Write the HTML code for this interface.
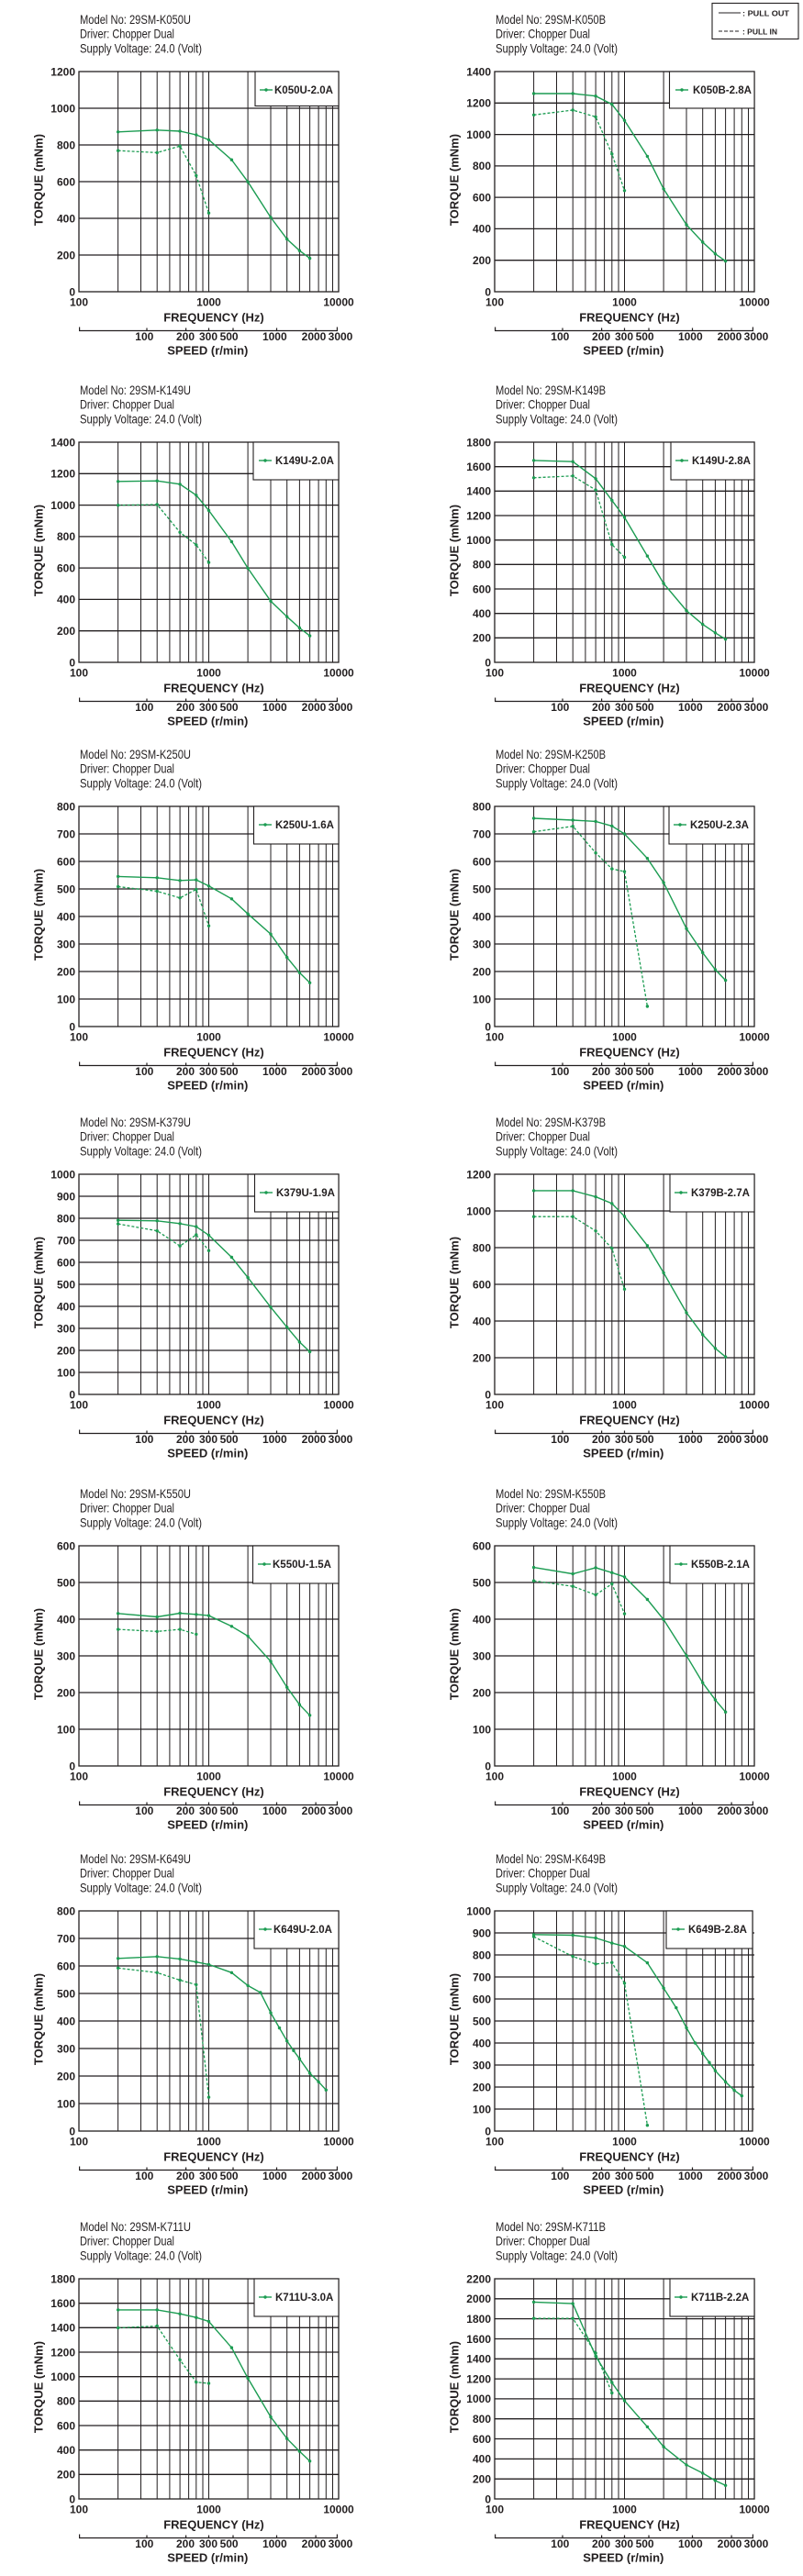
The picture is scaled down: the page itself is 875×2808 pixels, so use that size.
<!DOCTYPE html>
<html><head><meta charset="utf-8">
<style>
html,body{margin:0;padding:0;background:#fff;}
svg{display:block;}
.hd{font-family:"Liberation Sans",sans-serif;font-size:14px;fill:#231f20;}
.tk{font-family:"Liberation Sans",sans-serif;font-weight:bold;font-size:12px;fill:#231f20;}
.ax{font-family:"Liberation Sans",sans-serif;font-weight:bold;font-size:13px;fill:#231f20;}
.lt{font-family:"Liberation Sans",sans-serif;font-weight:bold;font-size:11.5px;fill:#231f20;}
.pl{font-family:"Liberation Sans",sans-serif;font-weight:bold;font-size:8px;fill:#231f20;}
.hg{stroke:#231f20;stroke-width:1.3;fill:none;}
.fr{stroke:#231f20;stroke-width:1.3;fill:none;}
.lg{stroke:#231f20;stroke-width:1.1;fill:#fff;}
.po{fill:none;stroke:#1c9c52;stroke-width:1.4;marker-start:url(#d);marker-mid:url(#d);marker-end:url(#d);}
.pi{fill:none;stroke:#1c9c52;stroke-width:1.3;stroke-dasharray:3 2;marker-start:url(#d);marker-mid:url(#d);marker-end:url(#d);}
.sa{stroke:#231f20;stroke-width:1.2;fill:none;}
</style></head>
<body>
<svg width="875" height="2808" viewBox="0 0 875 2808" xmlns="http://www.w3.org/2000/svg">
<defs>
<marker id="d" markerWidth="5" markerHeight="5" refX="2.5" refY="2.5" markerUnits="userSpaceOnUse"><circle cx="2.5" cy="2.5" r="1.7" fill="#1c9c52"/></marker>
<g id="vg"><path d="M42.6 0V240M67.5 0V240M85.2 0V240M98.9 0V240M110.1 0V240M119.6 0V240M127.8 0V240M135 0V240M141.5 0V240M184.1 0V240M209 0V240M226.7 0V240M240.4 0V240M251.6 0V240M261.1 0V240M269.3 0V240M276.5 0V240" stroke="#231f20" stroke-width="1" fill="none"/></g>
<g id="sax"><path class="sa" d="M0 282.5H282M0.6 278.5V282.5M281.4 278.5V282.5M74 279.5V282.5M116.6 279.5V282.5M141.5 279.5V282.5M168 279.5V282.5M215.5 279.5V282.5M258.1 279.5V282.5"/></g>
</defs>
<rect width="875" height="2808" fill="#fff"/>

<!-- top right legend -->
<rect x="776" y="3.5" width="94" height="39" fill="#fff" stroke="#231f20" stroke-width="1.1"/>
<path d="M783 14H807" stroke="#231f20" stroke-width="1.1"/>
<path d="M783 34H807" stroke="#231f20" stroke-width="1.1" stroke-dasharray="4 2"/>
<text class="pl" x="809" y="17.3" textLength="51" lengthAdjust="spacingAndGlyphs">: PULL  OUT</text>
<text class="pl" x="809" y="37.3" textLength="38" lengthAdjust="spacingAndGlyphs">: PULL  IN</text>

<!-- Chart 1 -->
<g transform="translate(86,78)">
<use href="#vg"/>
<path class="hg" d="M0 40H283M0 80H283M0 120H283M0 160H283M0 200H283"/>
<rect class="fr" x="0" y="0" width="283" height="240"/>
<rect class="lg" x="192" y="0" width="91" height="37.5"/>
<path d="M197 20H211" stroke="#1c9c52" stroke-width="1.4"/><circle cx="204" cy="20" r="1.7" fill="#1c9c52"/>
<text class="lt" x="213" y="24.2">K050U-2.0A</text>
<polyline class="pi" points="42.6,86.2 85.2,88.4 110.1,81.2 127.8,113.4 141.5,154.2"/>
<polyline class="po" points="42.6,65.8 85.2,63.8 110.1,65 127.8,69 141.5,74.4 166.4,96.2 184.1,120.2 209,159 226.7,182.6 240.4,195.2 251.6,203.6"/>
<text class="hd" x="1" y="-52" textLength="121" lengthAdjust="spacingAndGlyphs">Model No: 29SM-K050U</text>
<text class="hd" x="1" y="-36.3" textLength="103" lengthAdjust="spacingAndGlyphs">Driver: Chopper Dual</text>
<text class="hd" x="1" y="-20.6" textLength="133" lengthAdjust="spacingAndGlyphs">Supply Voltage: 24.0 (Volt)</text>
<g class="tk" text-anchor="end"><text x="-4" y="4.3">1200</text><text x="-4" y="44.3">1000</text><text x="-4" y="84.3">800</text><text x="-4" y="124.3">600</text><text x="-4" y="164.3">400</text><text x="-4" y="204.3">200</text><text x="-4" y="244.3">0</text></g>
<text class="ax" transform="translate(-39.7,118) rotate(-90)" text-anchor="middle">TORQUE (mNm)</text>
<g class="tk" text-anchor="middle"><text x="0" y="255.5">100</text><text x="141.5" y="255.5">1000</text><text x="283" y="255.5">10000</text></g>
<text class="ax" x="147" y="272.5" text-anchor="middle">FREQUENCY (Hz)</text>
<use href="#sax"/>
<g class="tk" text-anchor="middle"><text x="71.3" y="293">100</text><text x="116" y="293">200</text><text x="141" y="293">300</text><text x="163.6" y="293">500</text><text x="213.3" y="293">1000</text><text x="256" y="293">2000</text><text x="285" y="293">3000</text></g>
<text class="ax" x="140.3" y="308.5" text-anchor="middle">SPEED (r/min)</text>
</g>

<!-- Chart 2 -->
<g transform="translate(539,78)">
<use href="#vg"/>
<path class="hg" d="M0 34.3H283M0 68.6H283M0 102.9H283M0 137.1H283M0 171.4H283M0 205.7H283"/>
<rect class="fr" x="0" y="0" width="283" height="240"/>
<rect class="lg" x="190.5" y="0" width="92.5" height="40"/>
<path d="M197 20H211" stroke="#1c9c52" stroke-width="1.4"/><circle cx="204" cy="20" r="1.7" fill="#1c9c52"/>
<text class="lt" x="216" y="24.2">K050B-2.8A</text>
<polyline class="pi" points="42.6,47.3 85.2,42 110.1,49.4 127.8,89.8 141.5,129.8"/>
<polyline class="po" points="42.6,24 85.2,24 110.1,26.7 127.8,35.7 141.5,53.3 166.4,92.4 184.1,127.9 209,167 226.7,186 240.4,198.7 251.6,206.6"/>
<text class="hd" x="1" y="-52" textLength="120" lengthAdjust="spacingAndGlyphs">Model No: 29SM-K050B</text>
<text class="hd" x="1" y="-36.3" textLength="103" lengthAdjust="spacingAndGlyphs">Driver: Chopper Dual</text>
<text class="hd" x="1" y="-20.6" textLength="133" lengthAdjust="spacingAndGlyphs">Supply Voltage: 24.0 (Volt)</text>
<g class="tk" text-anchor="end"><text x="-4" y="4.3">1400</text><text x="-4" y="38.6">1200</text><text x="-4" y="72.9">1000</text><text x="-4" y="107.2">800</text><text x="-4" y="141.4">600</text><text x="-4" y="175.7">400</text><text x="-4" y="210">200</text><text x="-4" y="244.3">0</text></g>
<text class="ax" transform="translate(-39.7,118) rotate(-90)" text-anchor="middle">TORQUE (mNm)</text>
<g class="tk" text-anchor="middle"><text x="0" y="255.5">100</text><text x="141.5" y="255.5">1000</text><text x="283" y="255.5">10000</text></g>
<text class="ax" x="147" y="272.5" text-anchor="middle">FREQUENCY (Hz)</text>
<use href="#sax"/>
<g class="tk" text-anchor="middle"><text x="71.3" y="293">100</text><text x="116" y="293">200</text><text x="141" y="293">300</text><text x="163.6" y="293">500</text><text x="213.3" y="293">1000</text><text x="256" y="293">2000</text><text x="285" y="293">3000</text></g>
<text class="ax" x="140.3" y="308.5" text-anchor="middle">SPEED (r/min)</text>
</g>

<!-- Chart 3 -->
<g transform="translate(86,482)">
<use href="#vg"/>
<path class="hg" d="M0 34.3H283M0 68.6H283M0 102.9H283M0 137.1H283M0 171.4H283M0 205.7H283"/>
<rect class="fr" x="0" y="0" width="283" height="240"/>
<rect class="lg" x="190" y="0" width="93" height="41"/>
<path d="M196 20H210" stroke="#1c9c52" stroke-width="1.4"/><circle cx="203" cy="20" r="1.7" fill="#1c9c52"/>
<text class="lt" x="214" y="24.2">K149U-2.0A</text>
<polyline class="pi" points="42.6,68.7 85.2,68 110.1,98.3 127.8,111.9 141.5,131.1"/>
<polyline class="po" points="42.6,42.8 85.2,42.2 110.1,45.8 127.8,57.8 141.5,74.4 166.4,108.5 184.1,137.4 209,173.3 226.7,190.2 240.4,202.5 251.6,211.1"/>
<text class="hd" x="1" y="-52" textLength="121" lengthAdjust="spacingAndGlyphs">Model No: 29SM-K149U</text>
<text class="hd" x="1" y="-36.3" textLength="103" lengthAdjust="spacingAndGlyphs">Driver: Chopper Dual</text>
<text class="hd" x="1" y="-20.6" textLength="133" lengthAdjust="spacingAndGlyphs">Supply Voltage: 24.0 (Volt)</text>
<g class="tk" text-anchor="end"><text x="-4" y="4.3">1400</text><text x="-4" y="38.6">1200</text><text x="-4" y="72.9">1000</text><text x="-4" y="107.2">800</text><text x="-4" y="141.4">600</text><text x="-4" y="175.7">400</text><text x="-4" y="210">200</text><text x="-4" y="244.3">0</text></g>
<text class="ax" transform="translate(-39.7,118) rotate(-90)" text-anchor="middle">TORQUE (mNm)</text>
<g class="tk" text-anchor="middle"><text x="0" y="255.5">100</text><text x="141.5" y="255.5">1000</text><text x="283" y="255.5">10000</text></g>
<text class="ax" x="147" y="272.5" text-anchor="middle">FREQUENCY (Hz)</text>
<use href="#sax"/>
<g class="tk" text-anchor="middle"><text x="71.3" y="293">100</text><text x="116" y="293">200</text><text x="141" y="293">300</text><text x="163.6" y="293">500</text><text x="213.3" y="293">1000</text><text x="256" y="293">2000</text><text x="285" y="293">3000</text></g>
<text class="ax" x="140.3" y="308.5" text-anchor="middle">SPEED (r/min)</text>
</g>

<!-- Chart 4 -->
<g transform="translate(539,482)">
<use href="#vg"/>
<path class="hg" d="M0 26.7H283M0 53.3H283M0 80H283M0 106.7H283M0 133.3H283M0 160H283M0 186.7H283M0 213.3H283"/>
<rect class="fr" x="0" y="0" width="283" height="240"/>
<rect class="lg" x="192" y="0" width="91" height="41"/>
<path d="M197 20H211" stroke="#1c9c52" stroke-width="1.4"/><circle cx="204" cy="20" r="1.7" fill="#1c9c52"/>
<text class="lt" x="215" y="24.2">K149U-2.8A</text>
<polyline class="pi" points="42.6,38.8 85.2,36.8 110.1,52.1 127.8,111.5 141.5,125.5"/>
<polyline class="po" points="42.6,19.9 85.2,21.2 110.1,39.8 127.8,63.4 141.5,82 166.4,124.1 184.1,154 209,183.6 226.7,198.6 240.4,207.8 251.6,214.8"/>
<text class="hd" x="1" y="-52" textLength="120" lengthAdjust="spacingAndGlyphs">Model No: 29SM-K149B</text>
<text class="hd" x="1" y="-36.3" textLength="103" lengthAdjust="spacingAndGlyphs">Driver: Chopper Dual</text>
<text class="hd" x="1" y="-20.6" textLength="133" lengthAdjust="spacingAndGlyphs">Supply Voltage: 24.0 (Volt)</text>
<g class="tk" text-anchor="end"><text x="-4" y="4.3">1800</text><text x="-4" y="31">1600</text><text x="-4" y="57.6">1400</text><text x="-4" y="84.3">1200</text><text x="-4" y="111">1000</text><text x="-4" y="137.6">800</text><text x="-4" y="164.3">600</text><text x="-4" y="191">400</text><text x="-4" y="217.6">200</text><text x="-4" y="244.3">0</text></g>
<text class="ax" transform="translate(-39.7,118) rotate(-90)" text-anchor="middle">TORQUE (mNm)</text>
<g class="tk" text-anchor="middle"><text x="0" y="255.5">100</text><text x="141.5" y="255.5">1000</text><text x="283" y="255.5">10000</text></g>
<text class="ax" x="147" y="272.5" text-anchor="middle">FREQUENCY (Hz)</text>
<use href="#sax"/>
<g class="tk" text-anchor="middle"><text x="71.3" y="293">100</text><text x="116" y="293">200</text><text x="141" y="293">300</text><text x="163.6" y="293">500</text><text x="213.3" y="293">1000</text><text x="256" y="293">2000</text><text x="285" y="293">3000</text></g>
<text class="ax" x="140.3" y="308.5" text-anchor="middle">SPEED (r/min)</text>
</g>

<!-- Chart 5 -->
<g transform="translate(86,879)">
<use href="#vg"/>
<path class="hg" d="M0 30H283M0 60H283M0 90H283M0 120H283M0 150H283M0 180H283M0 210H283"/>
<rect class="fr" x="0" y="0" width="283" height="240"/>
<rect class="lg" x="190.5" y="0" width="92.5" height="41"/>
<path d="M196 20H210" stroke="#1c9c52" stroke-width="1.4"/><circle cx="203" cy="20" r="1.7" fill="#1c9c52"/>
<text class="lt" x="214" y="24.2">K250U-1.6A</text>
<polyline class="pi" points="42.6,87.5 85.2,92.5 110.1,99.8 127.8,90.5 141.5,130.2"/>
<polyline class="po" points="42.6,76.4 85.2,77.8 110.1,80.8 127.8,80.1 141.5,86.8 166.4,100.8 184.1,117.2 209,139.2 226.7,164.6 240.4,181.3 251.6,192.3"/>
<text class="hd" x="1" y="-52" textLength="121" lengthAdjust="spacingAndGlyphs">Model No: 29SM-K250U</text>
<text class="hd" x="1" y="-36.3" textLength="103" lengthAdjust="spacingAndGlyphs">Driver: Chopper Dual</text>
<text class="hd" x="1" y="-20.6" textLength="133" lengthAdjust="spacingAndGlyphs">Supply Voltage: 24.0 (Volt)</text>
<g class="tk" text-anchor="end"><text x="-4" y="4.3">800</text><text x="-4" y="34.3">700</text><text x="-4" y="64.3">600</text><text x="-4" y="94.3">500</text><text x="-4" y="124.3">400</text><text x="-4" y="154.3">300</text><text x="-4" y="184.3">200</text><text x="-4" y="214.3">100</text><text x="-4" y="244.3">0</text></g>
<text class="ax" transform="translate(-39.7,118) rotate(-90)" text-anchor="middle">TORQUE (mNm)</text>
<g class="tk" text-anchor="middle"><text x="0" y="255.5">100</text><text x="141.5" y="255.5">1000</text><text x="283" y="255.5">10000</text></g>
<text class="ax" x="147" y="272.5" text-anchor="middle">FREQUENCY (Hz)</text>
<use href="#sax"/>
<g class="tk" text-anchor="middle"><text x="71.3" y="293">100</text><text x="116" y="293">200</text><text x="141" y="293">300</text><text x="163.6" y="293">500</text><text x="213.3" y="293">1000</text><text x="256" y="293">2000</text><text x="285" y="293">3000</text></g>
<text class="ax" x="140.3" y="308.5" text-anchor="middle">SPEED (r/min)</text>
</g>

<!-- Chart 6 -->
<g transform="translate(539,879)">
<use href="#vg"/>
<path class="hg" d="M0 30H283M0 60H283M0 90H283M0 120H283M0 150H283M0 180H283M0 210H283"/>
<rect class="fr" x="0" y="0" width="283" height="240"/>
<rect class="lg" x="190" y="0" width="93" height="41"/>
<path d="M195 20H209" stroke="#1c9c52" stroke-width="1.4"/><circle cx="202" cy="20" r="1.7" fill="#1c9c52"/>
<text class="lt" x="213" y="24.2">K250U-2.3A</text>
<polyline class="pi" points="42.6,27.7 85.2,21.7 110.1,50.7 127.8,68.1 141.5,71.1 166.4,218"/>
<polyline class="po" points="42.6,13 85.2,15 110.1,16.4 127.8,21.4 141.5,30 166.4,56.7 184.1,83.1 209,133.2 226.7,159.5 240.4,177.9 251.6,189.6"/>
<text class="hd" x="1" y="-52" textLength="120" lengthAdjust="spacingAndGlyphs">Model No: 29SM-K250B</text>
<text class="hd" x="1" y="-36.3" textLength="103" lengthAdjust="spacingAndGlyphs">Driver: Chopper Dual</text>
<text class="hd" x="1" y="-20.6" textLength="133" lengthAdjust="spacingAndGlyphs">Supply Voltage: 24.0 (Volt)</text>
<g class="tk" text-anchor="end"><text x="-4" y="4.3">800</text><text x="-4" y="34.3">700</text><text x="-4" y="64.3">600</text><text x="-4" y="94.3">500</text><text x="-4" y="124.3">400</text><text x="-4" y="154.3">300</text><text x="-4" y="184.3">200</text><text x="-4" y="214.3">100</text><text x="-4" y="244.3">0</text></g>
<text class="ax" transform="translate(-39.7,118) rotate(-90)" text-anchor="middle">TORQUE (mNm)</text>
<g class="tk" text-anchor="middle"><text x="0" y="255.5">100</text><text x="141.5" y="255.5">1000</text><text x="283" y="255.5">10000</text></g>
<text class="ax" x="147" y="272.5" text-anchor="middle">FREQUENCY (Hz)</text>
<use href="#sax"/>
<g class="tk" text-anchor="middle"><text x="71.3" y="293">100</text><text x="116" y="293">200</text><text x="141" y="293">300</text><text x="163.6" y="293">500</text><text x="213.3" y="293">1000</text><text x="256" y="293">2000</text><text x="285" y="293">3000</text></g>
<text class="ax" x="140.3" y="308.5" text-anchor="middle">SPEED (r/min)</text>
</g>

<!-- Chart 7 -->
<g transform="translate(86,1280)">
<use href="#vg"/>
<path class="hg" d="M0 24H283M0 48H283M0 72H283M0 96H283M0 120H283M0 144H283M0 168H283M0 192H283M0 216H283"/>
<rect class="fr" x="0" y="0" width="283" height="240"/>
<rect class="lg" x="191.5" y="0" width="91.5" height="41"/>
<path d="M197 20H211" stroke="#1c9c52" stroke-width="1.4"/><circle cx="204" cy="20" r="1.7" fill="#1c9c52"/>
<text class="lt" x="215" y="24.2">K379U-1.9A</text>
<polyline class="pi" points="42.6,54.1 85.2,61.7 110.1,78.2 127.8,66 141.5,83.2"/>
<polyline class="po" points="42.6,50.2 85.2,50.8 110.1,53.8 127.8,57.1 141.5,66.4 166.4,90.5 184.1,112.6 209,144.9 226.7,166.7 240.4,182.9 251.6,193.5"/>
<text class="hd" x="1" y="-52" textLength="121" lengthAdjust="spacingAndGlyphs">Model No: 29SM-K379U</text>
<text class="hd" x="1" y="-36.3" textLength="103" lengthAdjust="spacingAndGlyphs">Driver: Chopper Dual</text>
<text class="hd" x="1" y="-20.6" textLength="133" lengthAdjust="spacingAndGlyphs">Supply Voltage: 24.0 (Volt)</text>
<g class="tk" text-anchor="end"><text x="-4" y="4.3">1000</text><text x="-4" y="28.3">900</text><text x="-4" y="52.3">800</text><text x="-4" y="76.3">700</text><text x="-4" y="100.3">600</text><text x="-4" y="124.3">500</text><text x="-4" y="148.3">400</text><text x="-4" y="172.3">300</text><text x="-4" y="196.3">200</text><text x="-4" y="220.3">100</text><text x="-4" y="244.3">0</text></g>
<text class="ax" transform="translate(-39.7,118) rotate(-90)" text-anchor="middle">TORQUE (mNm)</text>
<g class="tk" text-anchor="middle"><text x="0" y="255.5">100</text><text x="141.5" y="255.5">1000</text><text x="283" y="255.5">10000</text></g>
<text class="ax" x="147" y="272.5" text-anchor="middle">FREQUENCY (Hz)</text>
<use href="#sax"/>
<g class="tk" text-anchor="middle"><text x="71.3" y="293">100</text><text x="116" y="293">200</text><text x="141" y="293">300</text><text x="163.6" y="293">500</text><text x="213.3" y="293">1000</text><text x="256" y="293">2000</text><text x="285" y="293">3000</text></g>
<text class="ax" x="140.3" y="308.5" text-anchor="middle">SPEED (r/min)</text>
</g>

<!-- Chart 8 -->
<g transform="translate(539,1280)">
<use href="#vg"/>
<path class="hg" d="M0 40H283M0 80H283M0 120H283M0 160H283M0 200H283"/>
<rect class="fr" x="0" y="0" width="283" height="240"/>
<rect class="lg" x="191" y="0" width="92" height="41"/>
<path d="M196 20H210" stroke="#1c9c52" stroke-width="1.4"/><circle cx="203" cy="20" r="1.7" fill="#1c9c52"/>
<text class="lt" x="214" y="24.2">K379B-2.7A</text>
<polyline class="pi" points="42.6,46.2 85.2,46.2 110.1,61.8 127.8,80.8 141.5,125.3"/>
<polyline class="po" points="42.6,17.9 85.2,17.9 110.1,24.6 127.8,31.9 141.5,45.9 166.4,77.8 184.1,107.4 209,150.9 226.7,174.9 240.4,189.8 251.6,199.1"/>
<text class="hd" x="1" y="-52" textLength="120" lengthAdjust="spacingAndGlyphs">Model No: 29SM-K379B</text>
<text class="hd" x="1" y="-36.3" textLength="103" lengthAdjust="spacingAndGlyphs">Driver: Chopper Dual</text>
<text class="hd" x="1" y="-20.6" textLength="133" lengthAdjust="spacingAndGlyphs">Supply Voltage: 24.0 (Volt)</text>
<g class="tk" text-anchor="end"><text x="-4" y="4.3">1200</text><text x="-4" y="44.3">1000</text><text x="-4" y="84.3">800</text><text x="-4" y="124.3">600</text><text x="-4" y="164.3">400</text><text x="-4" y="204.3">200</text><text x="-4" y="244.3">0</text></g>
<text class="ax" transform="translate(-39.7,118) rotate(-90)" text-anchor="middle">TORQUE (mNm)</text>
<g class="tk" text-anchor="middle"><text x="0" y="255.5">100</text><text x="141.5" y="255.5">1000</text><text x="283" y="255.5">10000</text></g>
<text class="ax" x="147" y="272.5" text-anchor="middle">FREQUENCY (Hz)</text>
<use href="#sax"/>
<g class="tk" text-anchor="middle"><text x="71.3" y="293">100</text><text x="116" y="293">200</text><text x="141" y="293">300</text><text x="163.6" y="293">500</text><text x="213.3" y="293">1000</text><text x="256" y="293">2000</text><text x="285" y="293">3000</text></g>
<text class="ax" x="140.3" y="308.5" text-anchor="middle">SPEED (r/min)</text>
</g>

<!-- Chart 9 -->
<g transform="translate(86,1685)">
<use href="#vg"/>
<path class="hg" d="M0 40H283M0 80H283M0 120H283M0 160H283M0 200H283"/>
<rect class="fr" x="0" y="0" width="283" height="240"/>
<rect class="lg" x="189.5" y="0" width="93.5" height="41"/>
<path d="M195 20H209" stroke="#1c9c52" stroke-width="1.4"/><circle cx="202" cy="20" r="1.7" fill="#1c9c52"/>
<text class="lt" x="211" y="24.2">K550U-1.5A</text>
<polyline class="pi" points="42.6,91.1 85.2,93.4 110.1,91.1 127.8,96.4"/>
<polyline class="po" points="42.6,73.8 85.2,77.5 110.1,73.5 127.8,74.8 141.5,76.1 166.4,87.8 184.1,98.4 209,126 226.7,154.2 240.4,173.2 251.6,184.8"/>
<text class="hd" x="1" y="-52" textLength="121" lengthAdjust="spacingAndGlyphs">Model No: 29SM-K550U</text>
<text class="hd" x="1" y="-36.3" textLength="103" lengthAdjust="spacingAndGlyphs">Driver: Chopper Dual</text>
<text class="hd" x="1" y="-20.6" textLength="133" lengthAdjust="spacingAndGlyphs">Supply Voltage: 24.0 (Volt)</text>
<g class="tk" text-anchor="end"><text x="-4" y="4.3">600</text><text x="-4" y="44.3">500</text><text x="-4" y="84.3">400</text><text x="-4" y="124.3">300</text><text x="-4" y="164.3">200</text><text x="-4" y="204.3">100</text><text x="-4" y="244.3">0</text></g>
<text class="ax" transform="translate(-39.7,118) rotate(-90)" text-anchor="middle">TORQUE (mNm)</text>
<g class="tk" text-anchor="middle"><text x="0" y="255.5">100</text><text x="141.5" y="255.5">1000</text><text x="283" y="255.5">10000</text></g>
<text class="ax" x="147" y="272.5" text-anchor="middle">FREQUENCY (Hz)</text>
<use href="#sax"/>
<g class="tk" text-anchor="middle"><text x="71.3" y="293">100</text><text x="116" y="293">200</text><text x="141" y="293">300</text><text x="163.6" y="293">500</text><text x="213.3" y="293">1000</text><text x="256" y="293">2000</text><text x="285" y="293">3000</text></g>
<text class="ax" x="140.3" y="308.5" text-anchor="middle">SPEED (r/min)</text>
</g>

<!-- Chart 10 -->
<g transform="translate(539,1685)">
<use href="#vg"/>
<path class="hg" d="M0 40H283M0 80H283M0 120H283M0 160H283M0 200H283"/>
<rect class="fr" x="0" y="0" width="283" height="240"/>
<rect class="lg" x="191" y="0" width="92" height="41"/>
<path d="M196 20H210" stroke="#1c9c52" stroke-width="1.4"/><circle cx="203" cy="20" r="1.7" fill="#1c9c52"/>
<text class="lt" x="214" y="24.2">K550B-2.1A</text>
<polyline class="pi" points="42.6,38.2 85.2,44.2 110.1,53.5 127.8,41.5 141.5,74.1"/>
<polyline class="po" points="42.6,23.6 85.2,30.6 110.1,23.9 127.8,29.3 141.5,33.9 166.4,58.5 184.1,80.4 209,119.7 226.7,149.3 240.4,167.9 251.6,181.2"/>
<text class="hd" x="1" y="-52" textLength="120" lengthAdjust="spacingAndGlyphs">Model No: 29SM-K550B</text>
<text class="hd" x="1" y="-36.3" textLength="103" lengthAdjust="spacingAndGlyphs">Driver: Chopper Dual</text>
<text class="hd" x="1" y="-20.6" textLength="133" lengthAdjust="spacingAndGlyphs">Supply Voltage: 24.0 (Volt)</text>
<g class="tk" text-anchor="end"><text x="-4" y="4.3">600</text><text x="-4" y="44.3">500</text><text x="-4" y="84.3">400</text><text x="-4" y="124.3">300</text><text x="-4" y="164.3">200</text><text x="-4" y="204.3">100</text><text x="-4" y="244.3">0</text></g>
<text class="ax" transform="translate(-39.7,118) rotate(-90)" text-anchor="middle">TORQUE (mNm)</text>
<g class="tk" text-anchor="middle"><text x="0" y="255.5">100</text><text x="141.5" y="255.5">1000</text><text x="283" y="255.5">10000</text></g>
<text class="ax" x="147" y="272.5" text-anchor="middle">FREQUENCY (Hz)</text>
<use href="#sax"/>
<g class="tk" text-anchor="middle"><text x="71.3" y="293">100</text><text x="116" y="293">200</text><text x="141" y="293">300</text><text x="163.6" y="293">500</text><text x="213.3" y="293">1000</text><text x="256" y="293">2000</text><text x="285" y="293">3000</text></g>
<text class="ax" x="140.3" y="308.5" text-anchor="middle">SPEED (r/min)</text>
</g>

<!-- Chart 11 -->
<g transform="translate(86,2083)">
<use href="#vg"/>
<path class="hg" d="M0 30H283M0 60H283M0 90H283M0 120H283M0 150H283M0 180H283M0 210H283"/>
<rect class="fr" x="0" y="0" width="283" height="240"/>
<rect class="lg" x="191" y="0" width="92" height="41"/>
<path d="M196 20H210" stroke="#1c9c52" stroke-width="1.4"/><circle cx="203" cy="20" r="1.7" fill="#1c9c52"/>
<text class="lt" x="212" y="24.2">K649U-2.0A</text>
<polyline class="pi" points="42.6,62.3 85.2,67.3 110.1,75.5 127.8,80.4 141.5,203.1"/>
<polyline class="po" points="42.6,51.8 85.2,49.8 110.1,52.4 127.8,55.7 141.5,58.4 166.4,67.3 184.1,81.4 197.8,89 209,111.1 218.5,127.6 226.7,141.8 233.9,152.3 240.4,161.2 251.6,177 261.1,186.3 269.3,195.2"/>
<text class="hd" x="1" y="-52" textLength="121" lengthAdjust="spacingAndGlyphs">Model No: 29SM-K649U</text>
<text class="hd" x="1" y="-36.3" textLength="103" lengthAdjust="spacingAndGlyphs">Driver: Chopper Dual</text>
<text class="hd" x="1" y="-20.6" textLength="133" lengthAdjust="spacingAndGlyphs">Supply Voltage: 24.0 (Volt)</text>
<g class="tk" text-anchor="end"><text x="-4" y="4.3">800</text><text x="-4" y="34.3">700</text><text x="-4" y="64.3">600</text><text x="-4" y="94.3">500</text><text x="-4" y="124.3">400</text><text x="-4" y="154.3">300</text><text x="-4" y="184.3">200</text><text x="-4" y="214.3">100</text><text x="-4" y="244.3">0</text></g>
<text class="ax" transform="translate(-39.7,118) rotate(-90)" text-anchor="middle">TORQUE (mNm)</text>
<g class="tk" text-anchor="middle"><text x="0" y="255.5">100</text><text x="141.5" y="255.5">1000</text><text x="283" y="255.5">10000</text></g>
<text class="ax" x="147" y="272.5" text-anchor="middle">FREQUENCY (Hz)</text>
<use href="#sax"/>
<g class="tk" text-anchor="middle"><text x="71.3" y="293">100</text><text x="116" y="293">200</text><text x="141" y="293">300</text><text x="163.6" y="293">500</text><text x="213.3" y="293">1000</text><text x="256" y="293">2000</text><text x="285" y="293">3000</text></g>
<text class="ax" x="140.3" y="308.5" text-anchor="middle">SPEED (r/min)</text>
</g>

<!-- Chart 12 -->
<g transform="translate(539,2083)">
<use href="#vg"/>
<path class="hg" d="M0 24H283M0 48H283M0 72H283M0 96H283M0 120H283M0 144H283M0 168H283M0 192H283M0 216H283"/>
<rect class="fr" x="0" y="0" width="281" height="240"/>
<rect class="lg" x="187" y="0" width="94" height="41"/>
<path d="M193 20H207" stroke="#1c9c52" stroke-width="1.4"/><circle cx="200" cy="20" r="1.7" fill="#1c9c52"/>
<text class="lt" x="211" y="24.2">K649B-2.8A</text>
<polyline class="pi" points="42.6,28.1 85.2,49.7 110.1,57.9 127.8,56.3 141.5,78.8 166.4,233.7"/>
<polyline class="po" points="42.6,25.8 85.2,26.5 110.1,29.5 127.8,35.1 141.5,38.7 166.4,56.6 184.1,84.1 197.8,105.6 209,127.4 218.5,144 226.7,155.6 233.9,165.2 240.4,174.2 251.6,186.4 261.1,195.6 269.3,201.6"/>
<text class="hd" x="1" y="-52" textLength="120" lengthAdjust="spacingAndGlyphs">Model No: 29SM-K649B</text>
<text class="hd" x="1" y="-36.3" textLength="103" lengthAdjust="spacingAndGlyphs">Driver: Chopper Dual</text>
<text class="hd" x="1" y="-20.6" textLength="133" lengthAdjust="spacingAndGlyphs">Supply Voltage: 24.0 (Volt)</text>
<g class="tk" text-anchor="end"><text x="-4" y="4.3">1000</text><text x="-4" y="28.3">900</text><text x="-4" y="52.3">800</text><text x="-4" y="76.3">700</text><text x="-4" y="100.3">600</text><text x="-4" y="124.3">500</text><text x="-4" y="148.3">400</text><text x="-4" y="172.3">300</text><text x="-4" y="196.3">200</text><text x="-4" y="220.3">100</text><text x="-4" y="244.3">0</text></g>
<text class="ax" transform="translate(-39.7,118) rotate(-90)" text-anchor="middle">TORQUE (mNm)</text>
<g class="tk" text-anchor="middle"><text x="0" y="255.5">100</text><text x="141.5" y="255.5">1000</text><text x="283" y="255.5">10000</text></g>
<text class="ax" x="147" y="272.5" text-anchor="middle">FREQUENCY (Hz)</text>
<use href="#sax"/>
<g class="tk" text-anchor="middle"><text x="71.3" y="293">100</text><text x="116" y="293">200</text><text x="141" y="293">300</text><text x="163.6" y="293">500</text><text x="213.3" y="293">1000</text><text x="256" y="293">2000</text><text x="285" y="293">3000</text></g>
<text class="ax" x="140.3" y="308.5" text-anchor="middle">SPEED (r/min)</text>
</g>

<!-- Chart 13 -->
<g transform="translate(86,2484)">
<use href="#vg"/>
<path class="hg" d="M0 26.7H283M0 53.3H283M0 80H283M0 106.7H283M0 133.3H283M0 160H283M0 186.7H283M0 213.3H283"/>
<rect class="fr" x="0" y="0" width="283" height="240"/>
<rect class="lg" x="191" y="0" width="92" height="41"/>
<path d="M196 20H210" stroke="#1c9c52" stroke-width="1.4"/><circle cx="203" cy="20" r="1.7" fill="#1c9c52"/>
<text class="lt" x="214" y="24.2">K711U-3.0A</text>
<polyline class="pi" points="42.6,53.5 85.2,51.5 110.1,88.4 127.8,112.7 141.5,114"/>
<polyline class="po" points="42.6,33.9 85.2,33.9 110.1,38.2 127.8,42.2 141.5,46.5 166.4,75.1 184.1,108.4 209,150.6 226.7,174.2 240.4,188.1 251.6,198.8"/>
<text class="hd" x="1" y="-52" textLength="121" lengthAdjust="spacingAndGlyphs">Model No: 29SM-K711U</text>
<text class="hd" x="1" y="-36.3" textLength="103" lengthAdjust="spacingAndGlyphs">Driver: Chopper Dual</text>
<text class="hd" x="1" y="-20.6" textLength="133" lengthAdjust="spacingAndGlyphs">Supply Voltage: 24.0 (Volt)</text>
<g class="tk" text-anchor="end"><text x="-4" y="4.3">1800</text><text x="-4" y="31">1600</text><text x="-4" y="57.6">1400</text><text x="-4" y="84.3">1200</text><text x="-4" y="111">1000</text><text x="-4" y="137.6">800</text><text x="-4" y="164.3">600</text><text x="-4" y="191">400</text><text x="-4" y="217.6">200</text><text x="-4" y="244.3">0</text></g>
<text class="ax" transform="translate(-39.7,118) rotate(-90)" text-anchor="middle">TORQUE (mNm)</text>
<g class="tk" text-anchor="middle"><text x="0" y="255.5">100</text><text x="141.5" y="255.5">1000</text><text x="283" y="255.5">10000</text></g>
<text class="ax" x="147" y="272.5" text-anchor="middle">FREQUENCY (Hz)</text>
<use href="#sax"/>
<g class="tk" text-anchor="middle"><text x="71.3" y="293">100</text><text x="116" y="293">200</text><text x="141" y="293">300</text><text x="163.6" y="293">500</text><text x="213.3" y="293">1000</text><text x="256" y="293">2000</text><text x="285" y="293">3000</text></g>
<text class="ax" x="140.3" y="308.5" text-anchor="middle">SPEED (r/min)</text>
</g>

<!-- Chart 14 -->
<g transform="translate(539,2484)">
<use href="#vg"/>
<path class="hg" d="M0 21.8H283M0 43.6H283M0 65.5H283M0 87.3H283M0 109.1H283M0 130.9H283M0 152.7H283M0 174.5H283M0 196.4H283M0 218.2H283"/>
<rect class="fr" x="0" y="0" width="283" height="240"/>
<rect class="lg" x="191" y="0" width="92" height="41"/>
<path d="M196 20H210" stroke="#1c9c52" stroke-width="1.4"/><circle cx="203" cy="20" r="1.7" fill="#1c9c52"/>
<text class="lt" x="214" y="24.2">K711B-2.2A</text>
<polyline class="pi" points="42.6,43.2 85.2,43.2 110.1,81 127.8,124.5"/>
<polyline class="po" points="42.6,25.4 85.2,27.1 110.1,84.4 127.8,113.1 141.5,132.9 166.4,161.4 184.1,183.1 209,202.9 226.7,211.9 240.4,220 251.6,225.3"/>
<text class="hd" x="1" y="-52" textLength="120" lengthAdjust="spacingAndGlyphs">Model No: 29SM-K711B</text>
<text class="hd" x="1" y="-36.3" textLength="103" lengthAdjust="spacingAndGlyphs">Driver: Chopper Dual</text>
<text class="hd" x="1" y="-20.6" textLength="133" lengthAdjust="spacingAndGlyphs">Supply Voltage: 24.0 (Volt)</text>
<g class="tk" text-anchor="end"><text x="-4" y="4.3">2200</text><text x="-4" y="26.1">2000</text><text x="-4" y="47.9">1800</text><text x="-4" y="69.8">1600</text><text x="-4" y="91.6">1400</text><text x="-4" y="113.4">1200</text><text x="-4" y="135.2">1000</text><text x="-4" y="157">800</text><text x="-4" y="178.8">600</text><text x="-4" y="200.7">400</text><text x="-4" y="222.5">200</text><text x="-4" y="244.3">0</text></g>
<text class="ax" transform="translate(-39.7,118) rotate(-90)" text-anchor="middle">TORQUE (mNm)</text>
<g class="tk" text-anchor="middle"><text x="0" y="255.5">100</text><text x="141.5" y="255.5">1000</text><text x="283" y="255.5">10000</text></g>
<text class="ax" x="147" y="272.5" text-anchor="middle">FREQUENCY (Hz)</text>
<use href="#sax"/>
<g class="tk" text-anchor="middle"><text x="71.3" y="293">100</text><text x="116" y="293">200</text><text x="141" y="293">300</text><text x="163.6" y="293">500</text><text x="213.3" y="293">1000</text><text x="256" y="293">2000</text><text x="285" y="293">3000</text></g>
<text class="ax" x="140.3" y="308.5" text-anchor="middle">SPEED (r/min)</text>
</g>

</svg>
</body></html>
